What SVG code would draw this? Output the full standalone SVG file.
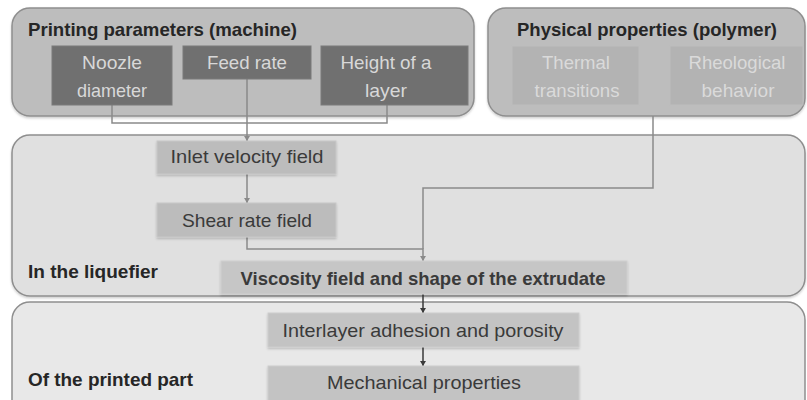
<svg xmlns="http://www.w3.org/2000/svg" width="807" height="400" viewBox="0 0 807 400">
  <defs>
    <style>
      .cont-top { fill: #bdbdbd; stroke: #8e8e8e; stroke-width: 1.5; }
      .cont-mid { fill: #e0e0e0; stroke: #8e8e8e; stroke-width: 1.5; }
      .cont-bot { fill: #e8e8e8; stroke: #8e8e8e; stroke-width: 1.5; }
      .dark { fill: #707070; stroke: #7a7a7a; stroke-width: 1; }
      .mat { fill: #b3b3b3; stroke: #bdbdbd; stroke-width: 1; }
      .proc { fill: #bcbcbc; stroke: #c8c8c8; stroke-width: 1; }
      .visc { fill: #c6c6c6; stroke: #cfcfcf; stroke-width: 1; }
      .part { fill: #c3c3c3; stroke: #cdcdcd; stroke-width: 1; }
      text { font-family: "Liberation Sans", Arial, sans-serif; font-size: 18.5px; }
      .title { font-weight: bold; fill: #262626; }
      .lt { fill: #d8d8d8; text-anchor: middle; }
      .lt2 { fill: #dadada; text-anchor: middle; }
      .dk { fill: #3a3a3a; text-anchor: middle; }
      .bold { font-weight: bold; }
      .conn { fill: none; stroke: #8a8a8a; stroke-width: 1.5; }
      .conn2 { fill: none; stroke: #3a3a3a; stroke-width: 1.5; }
    </style>
    <marker id="ah" markerWidth="6" markerHeight="6" refX="5" refY="3" orient="auto" markerUnits="userSpaceOnUse">
      <path d="M0,0 L5,3 L0,6 Z" fill="#8a8a8a"/>
    </marker>
    <marker id="ah2" markerWidth="6" markerHeight="6" refX="5" refY="3" orient="auto" markerUnits="userSpaceOnUse">
      <path d="M0,0 L5,3 L0,6 Z" fill="#3a3a3a"/>
    </marker>
    <filter id="sh" x="-5%" y="-10%" width="110%" height="130%">
      <feDropShadow dx="0" dy="1.5" stdDeviation="1" flood-color="#000" flood-opacity="0.2"/>
    </filter>
  </defs>

  <!-- containers -->
  <g id="machine">
    <rect class="cont-top" x="12" y="8" width="462" height="108" rx="18" filter="url(#sh)"/>
    <text class="title" x="28" y="36" textLength="269" lengthAdjust="spacingAndGlyphs">Printing parameters (machine)</text>
  </g>
  <g id="polymer">
    <rect class="cont-top" x="488" y="8" width="317" height="108" rx="18" filter="url(#sh)"/>
    <text class="title" x="517" y="36" textLength="260" lengthAdjust="spacingAndGlyphs">Physical properties (polymer)</text>
  </g>
  <g id="liquefier">
    <rect class="cont-mid" x="12" y="135" width="793" height="161" rx="18" filter="url(#sh)"/>
    <text class="title" x="28" y="278" textLength="130" lengthAdjust="spacingAndGlyphs">In the liquefier</text>
  </g>
  <g id="printed-part">
    <rect class="cont-bot" x="12" y="302" width="793" height="120" rx="18"/>
    <text class="title" x="28" y="386" textLength="165" lengthAdjust="spacingAndGlyphs">Of the printed part</text>
  </g>

  <!-- connectors -->
  <g id="connectors">
    <path class="conn" d="M112,105 V123 H387 V105"/>
    <path class="conn" d="M247,79 V141" marker-end="url(#ah)"/>
    <path class="conn" d="M247,174 V203" marker-end="url(#ah)"/>
    <path class="conn" d="M247,237 V249 H423 V261" marker-end="url(#ah)"/>
    <path class="conn" d="M653,116 V188 H423 V249"/>
    <path class="conn2" d="M423,294 V313" marker-end="url(#ah2)"/>
    <path class="conn2" d="M423,347 V366" marker-end="url(#ah2)"/>
  </g>

  <!-- nodes -->
  <g id="noozle-diameter">
    <rect class="dark" x="52" y="46" width="120" height="59"/>
    <text class="lt" x="112" y="69" textLength="60" lengthAdjust="spacingAndGlyphs">Noozle</text>
    <text class="lt" x="112" y="97" textLength="70" lengthAdjust="spacingAndGlyphs">diameter</text>
  </g>
  <g id="feed-rate">
    <rect class="dark" x="183" y="46" width="128" height="33"/>
    <text class="lt" x="247" y="69" textLength="80" lengthAdjust="spacingAndGlyphs">Feed rate</text>
  </g>
  <g id="layer-height">
    <rect class="dark" x="321" y="46" width="147" height="59"/>
    <text class="lt" x="386" y="69" textLength="91" lengthAdjust="spacingAndGlyphs">Height of a</text>
    <text class="lt" x="386" y="97" textLength="42" lengthAdjust="spacingAndGlyphs">layer</text>
  </g>
  <g id="thermal-transitions">
    <rect class="mat" x="512" y="46" width="127" height="59"/>
    <text class="lt2" x="576" y="69" textLength="68" lengthAdjust="spacingAndGlyphs">Thermal</text>
    <text class="lt2" x="577" y="97" textLength="85" lengthAdjust="spacingAndGlyphs">transitions</text>
  </g>
  <g id="rheological-behavior">
    <rect class="mat" x="670" y="46" width="133" height="59"/>
    <text class="lt2" x="737" y="69" textLength="97" lengthAdjust="spacingAndGlyphs">Rheological</text>
    <text class="lt2" x="738" y="97" textLength="73" lengthAdjust="spacingAndGlyphs">behavior</text>
  </g>
  <g id="inlet-velocity">
    <rect class="proc" x="157" y="141" width="179" height="33" filter="url(#sh)"/>
    <text class="dk" x="247" y="163" textLength="153" lengthAdjust="spacingAndGlyphs">Inlet velocity field</text>
  </g>
  <g id="shear-rate">
    <rect class="proc" x="157" y="203" width="179" height="34" filter="url(#sh)"/>
    <text class="dk" x="247" y="227" textLength="130" lengthAdjust="spacingAndGlyphs">Shear rate field</text>
  </g>
  <g id="viscosity">
    <rect class="visc" x="221" y="261" width="406" height="33" filter="url(#sh)"/>
    <text class="dk bold" x="423" y="285" textLength="365" lengthAdjust="spacingAndGlyphs">Viscosity field and shape of the extrudate</text>
  </g>
  <g id="interlayer">
    <rect class="part" x="268" y="313" width="311" height="34" filter="url(#sh)"/>
    <text class="dk" x="423" y="337" textLength="281" lengthAdjust="spacingAndGlyphs">Interlayer adhesion and porosity</text>
  </g>
  <g id="mechanical">
    <rect class="part" x="268" y="366" width="311" height="36" filter="url(#sh)"/>
    <text class="dk" x="424" y="389" textLength="194" lengthAdjust="spacingAndGlyphs">Mechanical properties</text>
  </g>
</svg>
